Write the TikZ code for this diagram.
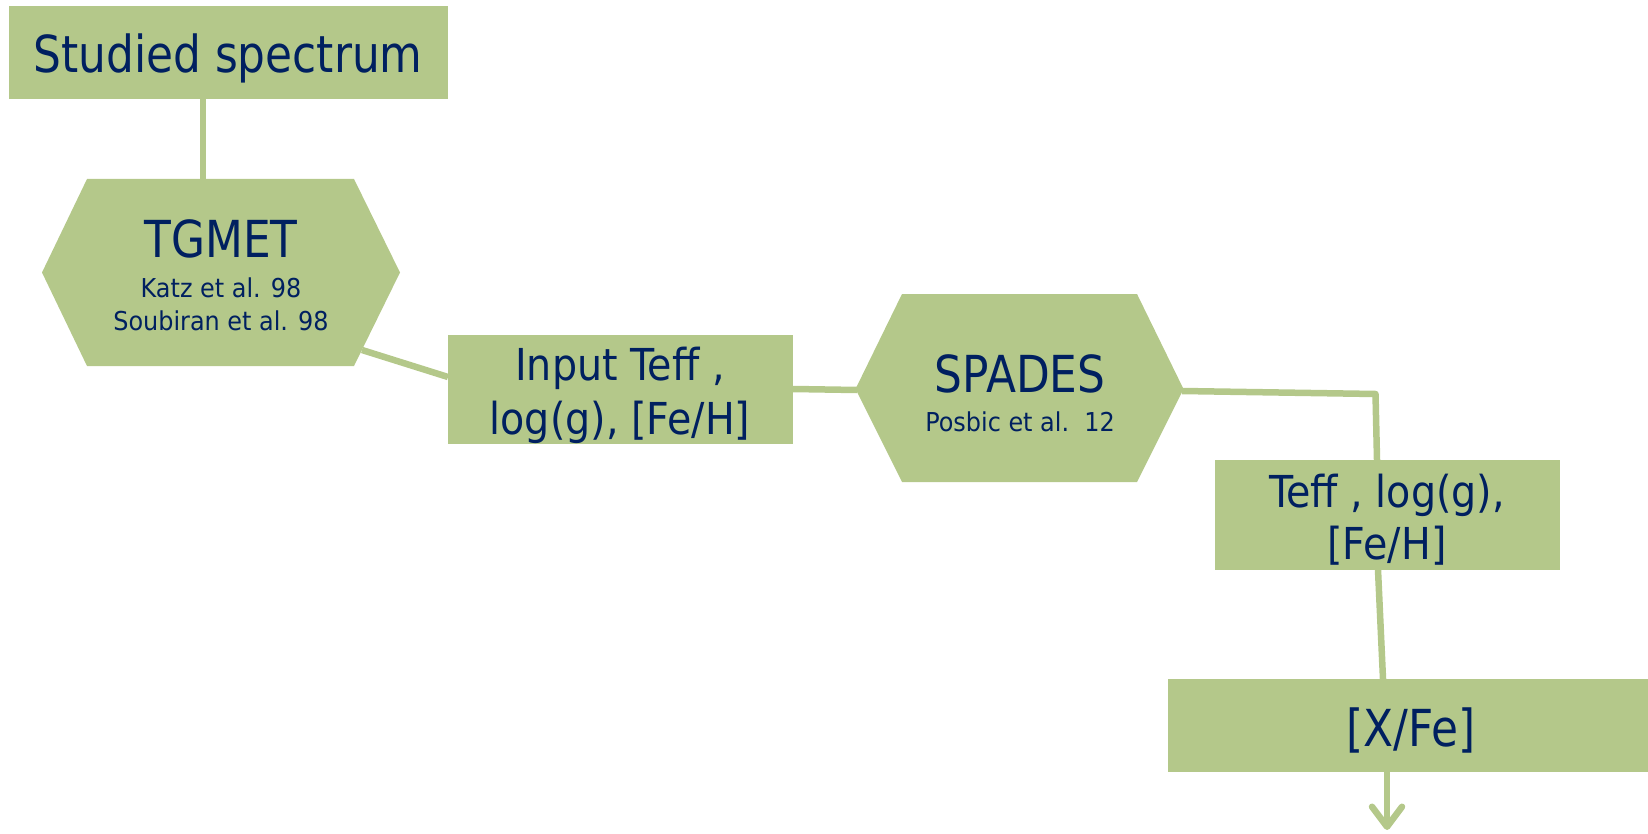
\documentclass[tikz,border=0pt]{standalone}
\usepackage{fontspec}
\setmainfont{DejaVu Sans}
\newfontfamily\fbig[FakeStretch=0.86]{DejaVu Sans}
\newfontfamily\fmid[FakeStretch=0.90]{DejaVu Sans}
\newfontfamily\fsmall[FakeStretch=0.92]{DejaVu Sans}
\usetikzlibrary{calc,arrows.meta}
\definecolor{leaf}{HTML}{B4C88A}
\definecolor{navy}{HTML}{002060}
\begin{document}
\begin{tikzpicture}[x=1pt,y=-1pt,
  box/.style={fill=leaf, draw=none, inner sep=0pt, outer sep=0pt},
  hexbody/.style={draw=none, inner sep=0pt, outer sep=0pt},
  conn/.style={draw=leaf, line width=6.5pt},
  lbl/.style={text=navy, anchor=base, inner sep=0pt},
  big/.style={lbl, font=\fbig\fontsize{51}{61}\selectfont},
  mid/.style={lbl, font=\fmid\fontsize{44}{53}\selectfont},
  small/.style={lbl, font=\fsmall\fontsize{26}{31}\selectfont}]
\useasboundingbox (0,0) rectangle (1648,834);

% bodies
\node[box, minimum width=439pt, minimum height=93pt] (studied) at (228.5,52.5) {};
\node[hexbody, minimum width=267pt, minimum height=187pt] (tgmet) at (220.5,272.5) {};
\fill[leaf] (tgmet.north west) -- (tgmet.north east) -- ($(tgmet.east)+(46,0)$)
  -- (tgmet.south east) -- (tgmet.south west) -- ($(tgmet.west)+(-45,0)$) -- cycle;
\node[box, minimum width=345pt, minimum height=109pt] (input) at (620.5,389.5) {};
\node[hexbody, minimum width=235pt, minimum height=188pt] (spades) at (1019.5,388) {};
\fill[leaf] (spades.north west) -- (spades.north east) -- ($(spades.east)+(46.5,1)$)
  -- (spades.south east) -- (spades.south west) -- ($(spades.west)+(-46.5,1)$) -- cycle;
\node[box, minimum width=345pt, minimum height=110pt] (teff) at (1387.5,515) {};
\node[box, minimum width=480pt, minimum height=93pt] (xfe) at (1408,725.5) {};

% connectors
\draw[conn] ($(studied.south)+(-25.5,0)$) -- ($(tgmet.north)+(-17.5,0)$);
\draw[conn] ($(tgmet.south east)+(8,-16)$) -- ($(input.west)+(0,-12.5)$);
\draw[conn] ($(input.east)+(0,-0.5)$) -- ($(spades.west)+(-45,2)$);
\draw[conn, line join=round] ($(spades.east)+(45,3)$) -- ($(teff.north)+(-12,-66)$) -- ($(teff.north)+(-10.5,0)$);
\draw[conn] ($(teff.south)+(-9.5,0)$) -- ($(xfe.north)+(-25,0)$);
\draw[conn, -{Straight Barb[length=20pt, width=30pt, round]}] ($(xfe.south)+(-21,0)$) -- ($(xfe.south)+(-21,58)$);

% labels
\node[big] at (228,73) {Studied spectrum};
\node[big] at (221,258) {TGMET};
\node[small] at (221,297) {Katz et al. 98};
\node[small] at (221,330) {Soubiran et al. 98};
\node[mid] at (620,380) {Input Teff ,};
\node[mid] at (620,434) {log(g), [Fe/H]};
\node[big] at (1020,392) {SPADES};
\node[small] at (1020,431) {Posbic et al.\ \ 12};
\node[mid] at (1387,507) {Teff , log(g),};
\node[mid] at (1387,559) {[Fe/H]};
\node[big] at (1411,746) {[X/Fe]};
\end{tikzpicture}
\end{document}
